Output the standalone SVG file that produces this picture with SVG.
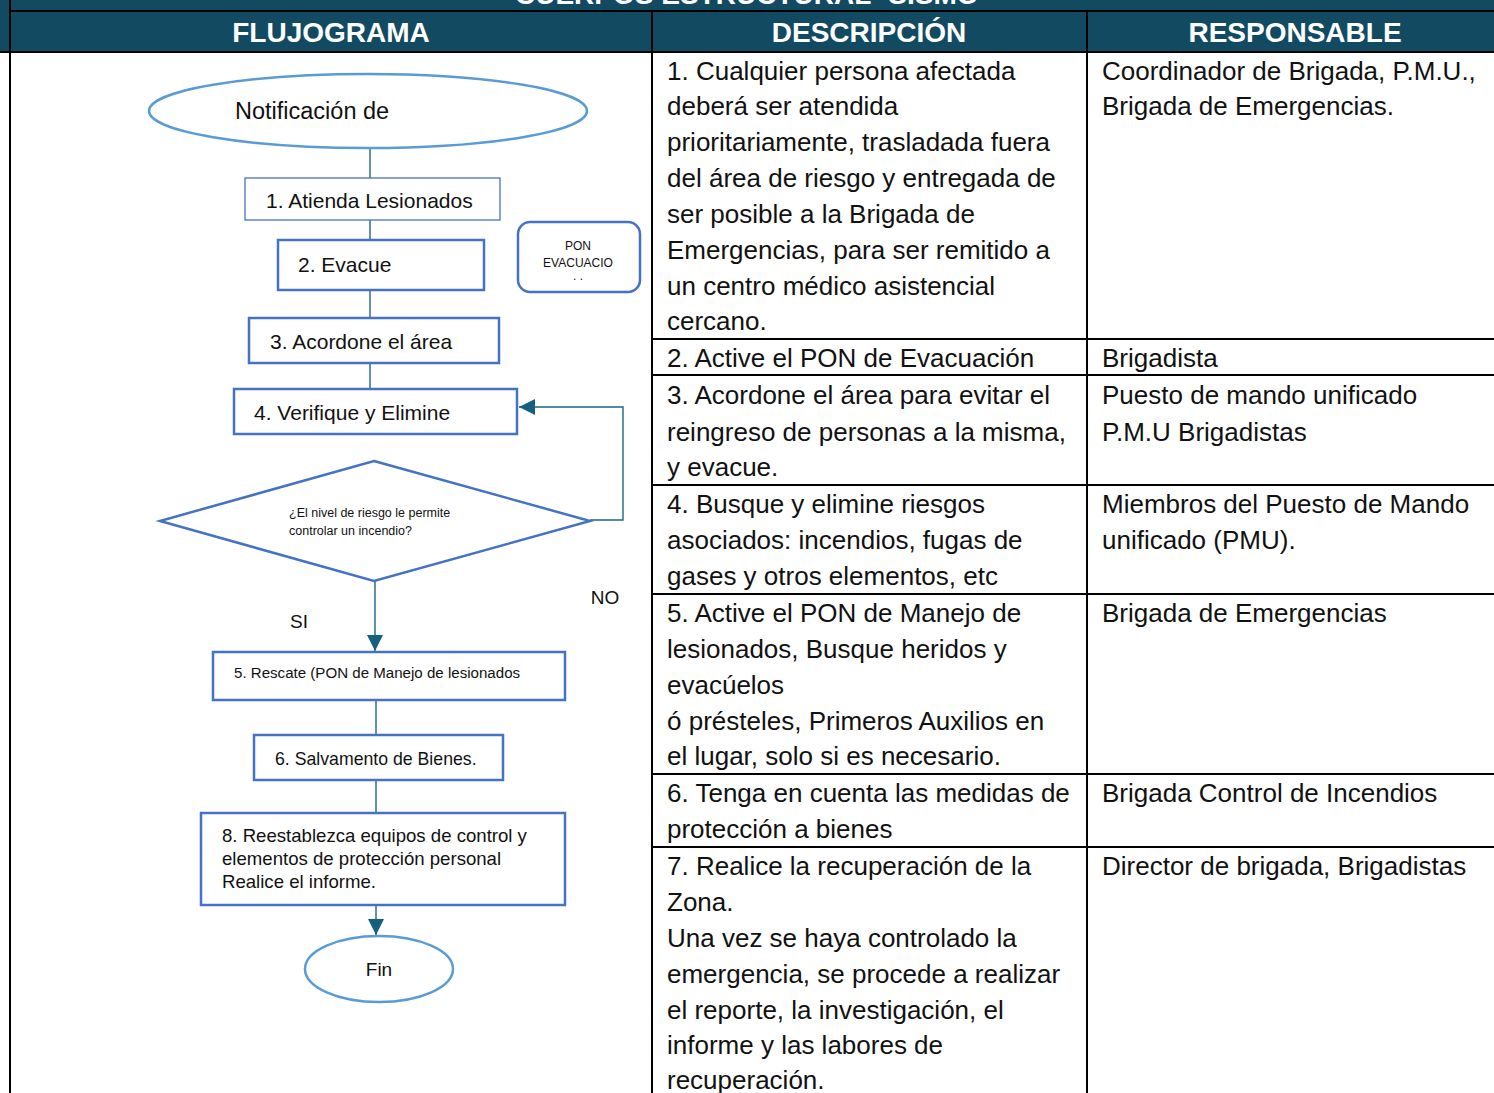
<svg xmlns="http://www.w3.org/2000/svg" width="1494" height="1093" viewBox="0 0 1494 1093">
<defs>
<style>
.hdr{font-family:"Liberation Sans",Arial,sans-serif;font-weight:bold;font-size:28px;fill:#ffffff}
.tx{font-family:"Liberation Sans",Arial,sans-serif;font-size:26px;fill:#111111}
.fc{font-family:"Liberation Sans",Arial,sans-serif;fill:#111111}
.box{fill:#ffffff;stroke:#4472C4;stroke-width:2.5}
.thin{fill:#ffffff;stroke:#4472C4;stroke-width:1.3}
.ell{fill:#ffffff;stroke:#5B9BD5;stroke-width:2.5}
.con{fill:none;stroke:#1B6585;stroke-width:1.4}
.grid{stroke:#000000;stroke-width:2;fill:none}
</style>
<marker id="arr" viewBox="0 0 10 10" refX="10" refY="5" markerWidth="16" markerHeight="16" markerUnits="userSpaceOnUse" orient="auto">
<path d="M0,0 L10,5 L0,10 z" fill="#15607F"/>
</marker>
</defs>
<rect x="0" y="0" width="1494" height="1093" fill="#ffffff"/>
<!-- header -->
<rect x="0" y="0" width="1494" height="52" fill="#124A62"/>
<text class="hdr" x="515" y="4">CUERPOS ESTRUCTURAL- SISMO</text>
<line class="grid" x1="10" y1="11" x2="1494" y2="11"/>
<line class="grid" x1="0" y1="52" x2="1494" y2="52" stroke-width="3"/>
<text class="hdr" x="331" y="42" text-anchor="middle">FLUJOGRAMA</text>
<text class="hdr" x="869" y="42" text-anchor="middle">DESCRIPCIÓN</text>
<text class="hdr" x="1295" y="42" text-anchor="middle">RESPONSABLE</text>
<!-- grid -->
<g id="grid">
<line class="grid" x1="10" y1="0" x2="10" y2="1093"/>
<line class="grid" x1="652" y1="11" x2="652" y2="1093"/>
<line class="grid" x1="1087" y1="11" x2="1087" y2="1093"/>
<line class="grid" x1="652" y1="339" x2="1494" y2="339"/>
<line class="grid" x1="652" y1="375" x2="1494" y2="375"/>
<line class="grid" x1="652" y1="485" x2="1494" y2="485"/>
<line class="grid" x1="652" y1="594" x2="1494" y2="594"/>
<line class="grid" x1="652" y1="774" x2="1494" y2="774"/>
<line class="grid" x1="652" y1="847" x2="1494" y2="847"/>
</g>
<!-- description -->
<g id="desc" class="tx">
<text x="667" y="80">1. Cualquier persona afectada</text>
<text x="667" y="115">deberá ser atendida</text>
<text x="667" y="151">prioritariamente, trasladada fuera</text>
<text x="667" y="187">del área de riesgo y entregada de</text>
<text x="667" y="223">ser posible a la Brigada de</text>
<text x="667" y="259">Emergencias, para ser remitido a</text>
<text x="667" y="295">un centro médico asistencial</text>
<text x="667" y="330">cercano.</text>
<text x="667" y="367">2. Active el PON de Evacuación</text>
<text x="667" y="404">3. Acordone el área para evitar el</text>
<text x="667" y="441">reingreso de personas a la misma,</text>
<text x="667" y="476">y evacue.</text>
<text x="667" y="513">4. Busque y elimine riesgos</text>
<text x="667" y="549">asociados: incendios, fugas de</text>
<text x="667" y="585">gases y otros elementos, etc</text>
<text x="667" y="622">5. Active el PON de Manejo de</text>
<text x="667" y="658">lesionados, Busque heridos y</text>
<text x="667" y="694">evacúelos</text>
<text x="667" y="730">ó présteles, Primeros Auxilios en</text>
<text x="667" y="765">el lugar, solo si es necesario.</text>
<text x="667" y="802">6. Tenga en cuenta las medidas de</text>
<text x="667" y="838">protección a bienes</text>
<text x="667" y="875">7. Realice la recuperación de la</text>
<text x="667" y="911">Zona.</text>
<text x="667" y="947">Una vez se haya controlado la</text>
<text x="667" y="983">emergencia, se procede a realizar</text>
<text x="667" y="1019">el reporte, la investigación, el</text>
<text x="667" y="1054">informe y las labores de</text>
<text x="667" y="1089">recuperación.</text>
</g>
<!-- responsible -->
<g id="resp" class="tx">
<text x="1102" y="80">Coordinador de Brigada, P.M.U.,</text>
<text x="1102" y="115">Brigada de Emergencias.</text>
<text x="1102" y="367">Brigadista</text>
<text x="1102" y="404">Puesto de mando unificado</text>
<text x="1102" y="441">P.M.U Brigadistas</text>
<text x="1102" y="513">Miembros del Puesto de Mando</text>
<text x="1102" y="549">unificado (PMU).</text>
<text x="1102" y="622">Brigada de Emergencias</text>
<text x="1102" y="802">Brigada Control de Incendios</text>
<text x="1102" y="875">Director de brigada, Brigadistas</text>
</g>
<!-- connectors -->
<g id="connectors">
<line class="con" x1="370" y1="149" x2="370" y2="178"/>
<line class="con" x1="370" y1="220" x2="370" y2="240"/>
<line class="con" x1="370" y1="290" x2="370" y2="318"/>
<line class="con" x1="370" y1="363" x2="370" y2="389"/>
<polyline class="con" points="590,520 623,520 623,407 519,407" marker-end="url(#arr)"/>
<line class="con" x1="375" y1="581" x2="375" y2="651" marker-end="url(#arr)"/>
<line class="con" x1="376" y1="700" x2="376" y2="735"/>
<line class="con" x1="376" y1="780" x2="376" y2="813"/>
<line class="con" x1="376" y1="905" x2="376" y2="935" marker-end="url(#arr)"/>
</g>
<!-- nodes -->
<g id="n-start">
<ellipse class="ell" cx="368" cy="111" rx="219" ry="37"/>
<text class="fc" x="235" y="119" font-size="23.5">Notificación de</text>
</g>
<g id="n1">
<rect class="thin" x="245" y="178" width="255" height="42"/>
<text class="fc" x="266" y="208" font-size="21">1. Atienda Lesionados</text>
</g>
<g id="n2">
<rect class="box" x="278" y="240" width="206" height="50"/>
<text class="fc" x="298" y="272" font-size="21">2. Evacue</text>
</g>
<g id="n-pon">
<rect class="box" x="518" y="222" width="122" height="70" rx="12"/>
<text class="fc" x="578" y="250" font-size="12" text-anchor="middle">PON</text>
<text class="fc" x="578" y="267" font-size="12" text-anchor="middle">EVACUACIO</text>
<text class="fc" x="578" y="280" font-size="12" text-anchor="middle">. .</text>
</g>
<g id="n3">
<rect class="box" x="249" y="318" width="250" height="45"/>
<text class="fc" x="270" y="349" font-size="21">3. Acordone el área</text>
</g>
<g id="n4">
<rect class="box" x="234" y="389" width="283" height="45"/>
<text class="fc" x="254" y="420" font-size="21">4. Verifique y Elimine</text>
</g>
<g id="n-dec">
<polygon class="box" points="374,461 590,521 374,581 160,521"/>
<text class="fc" x="289" y="517" font-size="12.5">¿El nivel de riesgo le permite</text>
<text class="fc" x="289" y="535" font-size="12.5">controlar un incendio?</text>
</g>
<text class="fc" x="605" y="604" font-size="19" text-anchor="middle">NO</text>
<text class="fc" x="299" y="628" font-size="19" text-anchor="middle">SI</text>
<g id="n5">
<rect class="box" x="213" y="652" width="352" height="48"/>
<text class="fc" x="234" y="678" font-size="15.1">5. Rescate (PON de Manejo de lesionados</text>
</g>
<g id="n6">
<rect class="box" x="254" y="735" width="249" height="45"/>
<text class="fc" x="275" y="765" font-size="17.7">6. Salvamento de Bienes.</text>
</g>
<g id="n8">
<rect class="box" x="201" y="813" width="364" height="92"/>
<text class="fc" x="222" y="842" font-size="18.6">8. Reestablezca equipos de control y</text>
<text class="fc" x="222" y="865" font-size="18.6">elementos de protección personal</text>
<text class="fc" x="222" y="888" font-size="18.6">Realice el informe.</text>
</g>
<g id="n-end">
<ellipse class="ell" cx="379" cy="969" rx="74" ry="33" stroke="#4472C4"/>
<text class="fc" x="379" y="976" font-size="19" text-anchor="middle">Fin</text>
</g>
</svg>
